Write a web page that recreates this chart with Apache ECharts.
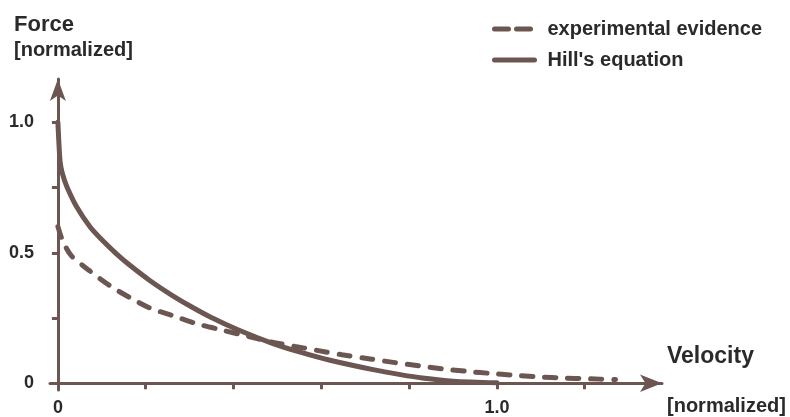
<!DOCTYPE html>
<html>
<head>
<meta charset="utf-8">
<script src="https://cdn.jsdelivr.net/npm/echarts@6/dist/echarts.min.js"></script>
<style>
html,body{margin:0;padding:0;background:#fff;}
#c{width:790px;height:417px;}
</style>
</head>
<body>
<div id="c"></div>
<script>
// Data (normalized units)
const hillV = [0, 0.002, 0.005, 0.01, 0.02, 0.043, 0.073, 0.103, 0.134, 0.164, 0.21, 0.26, 0.30, 0.346, 0.41, 0.49, 0.55, 0.62, 0.718, 0.78, 0.83, 0.9, 1.0];
const hillF = [1.0, 0.93, 0.85, 0.805, 0.755, 0.675, 0.60, 0.545, 0.495, 0.452, 0.393, 0.337, 0.297, 0.255, 0.205, 0.152, 0.12, 0.088, 0.052, 0.033, 0.02, 0.008, 0.002];
const expV = [0, 0.01, 0.03, 0.073, 0.118, 0.164, 0.21, 0.267, 0.316, 0.373, 0.43, 0.483, 0.54, 0.59, 0.647, 0.715, 0.768, 0.825, 0.877, 0.934, 0.99, 1.045, 1.10, 1.15, 1.207, 1.27];
const expF = [0.60, 0.55, 0.49, 0.43, 0.374, 0.328, 0.288, 0.256, 0.228, 0.204, 0.181, 0.159, 0.141, 0.126, 0.109, 0.092, 0.079, 0.066, 0.055, 0.045, 0.037, 0.03, 0.024, 0.02, 0.017, 0.014];
const xTicks = [0, 0.2, 0.4, 0.6, 0.8, 1.0, 1.2];
const xLabels = [0, 1.0];
const yTicks = [0, 0.25, 0.5, 0.75, 1.0];
const yLabels = [0, 0.5, 1.0];
const seriesNames = ['experimental evidence', "Hill's equation"];

const lineColor = '#6c5652';
const textColor = '#2a2a2a';
const font = "'Liberation Sans', Arial, sans-serif";

const fmt = v => (Math.abs(v) < 1e-9 ? '0' : v.toFixed(1));
const hiddenSymbol = {color: 'rgba(0,0,0,0)', borderWidth: 0, opacity: 0};

const chart = echarts.init(document.getElementById('c'), null, {renderer: 'canvas'});
chart.setOption({
  animation: false,
  backgroundColor: '#fff',
  textStyle: {fontFamily: font},
  title: [
    {text: 'Force', left: 9, top: 9, textStyle: {fontSize: 22, fontWeight: 'bold', color: textColor, fontFamily: font}},
    {text: '[normalized]', left: 9, top: 35, textStyle: {fontSize: 20, fontWeight: 'bold', color: textColor, fontFamily: font}},
    {text: 'Velocity', left: 662, top: 340, textStyle: {fontSize: 23, fontWeight: 'bold', color: textColor, fontFamily: font}},
    {text: '[normalized]', left: 662, top: 391, textStyle: {fontSize: 20, fontWeight: 'bold', color: textColor, fontFamily: font}}
  ],
  legend: {
    orient: 'vertical',
    left: 487,
    top: 14,
    itemWidth: 40,
    itemHeight: 14,
    itemGap: 11,
    textStyle: {fontSize: 20, fontWeight: 'bold', color: textColor, fontFamily: font, lineHeight: 20, padding: [0, 0, 0, 8]},
    data: [
      {name: seriesNames[0], itemStyle: hiddenSymbol, lineStyle: {type: [14, 8], width: 5, cap: 'round', color: lineColor}},
      {name: seriesNames[1], itemStyle: hiddenSymbol, lineStyle: {type: 'solid', width: 5, cap: 'round', color: lineColor}}
    ]
  },
  grid: {left: 50, right: 128, top: 79, bottom: 22},
  xAxis: {
    type: 'value',
    min: -0.018,
    max: 1.376,
    splitLine: {show: false},
    axisLine: {onZero: true, lineStyle: {color: lineColor, width: 3}, symbol: ['none', 'arrow'], symbolSize: [13, 22]},
    axisTick: {show: true, customValues: xTicks, length: 6, lineStyle: {color: lineColor, width: 3}},
    axisLabel: {customValues: xLabels, formatter: fmt, margin: 9, fontSize: 18, fontWeight: 'bold', color: textColor, fontFamily: font}
  },
  yAxis: {
    type: 'value',
    min: -0.026,
    max: 1.166,
    splitLine: {show: false},
    axisLine: {onZero: true, lineStyle: {color: lineColor, width: 3}, symbol: ['none', 'arrow'], symbolSize: [12, 22]},
    axisTick: {show: true, customValues: yTicks, length: 6, lineStyle: {color: lineColor, width: 3}},
    axisLabel: {customValues: yLabels, formatter: fmt, margin: 16, fontSize: 18, fontWeight: 'bold', color: textColor, fontFamily: font}
  },
  series: [
    {
      name: seriesNames[0],
      type: 'line',
      smooth: 0.3,
      symbol: 'none',
      data: expV.map((v, i) => [v, expF[i]]),
      lineStyle: {color: lineColor, width: 5, type: [11, 12], cap: 'round'},
      itemStyle: {color: lineColor},
      z: 3
    },
    {
      name: seriesNames[1],
      type: 'line',
      smooth: 0.3,
      symbol: 'none',
      data: hillV.map((v, i) => [v, hillF[i]]),
      lineStyle: {color: lineColor, width: 5, type: 'solid', cap: 'round'},
      itemStyle: {color: lineColor},
      z: 3
    }
  ]
});
</script>
</body>
</html>
